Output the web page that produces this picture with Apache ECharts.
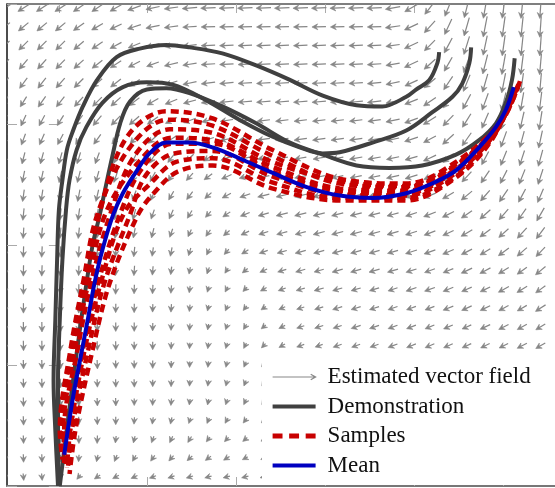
<!DOCTYPE html>
<html>
<head>
<meta charset="utf-8">
<script src="https://cdn.jsdelivr.net/npm/echarts@6/dist/echarts.min.js"></script>
<style>
html, body { margin: 0; padding: 0; background: #fff; }
#main { width: 555px; height: 488px; }
</style>
</head>
<body>
<div id="main"></div>
<script>
// grid points of the vector field
var gridX = [-6.07, -3.99, -1.91, 0.17, 2.24, 4.32, 6.40, 8.48, 10.56, 12.64, 14.72, 16.80, 18.87, 20.95, 23.03,
	25.11, 27.19, 29.27, 31.35, 33.43, 35.50, 37.58, 39.66, 41.74, 43.82, 45.90, 47.98, 50.06, 52.13, 54.21];
var gridY = [39.67, 38.11, 36.56, 35.00, 33.44, 31.89, 30.33, 28.77, 27.21, 25.66, 24.10, 22.54, 20.99,
	19.43, 17.87, 16.32, 14.76, 13.20, 11.64, 10.09, 8.53, 6.97, 5.42, 3.86, 2.30, 0.75];

// direction of each arrow (degrees, 180 = left, 270 = down), one row per gridY
var fieldAngle = [
	[212,212,213,213,214,214,210,200,192,188,185,182,182,182,182,182,182,182,182,182,182,190,210,232,248,256,260,262,264,266],
	[220,220,220,220,215,210,205,198,192,188,184,182,182,182,182,182,182,182,182,182,182,188,205,228,245,254,259,262,264,266],
	[225,225,225,225,220,214,208,202,196,190,186,182,182,182,182,182,182,182,182,182,183,188,205,225,242,253,258,262,264,266],
	[232,230,228,226,222,218,213,207,200,194,189,184,183,183,183,183,183,183,183,183,184,190,205,222,240,250,256,260,263,265],
	[236,234,232,228,225,222,218,212,205,198,192,187,185,184,184,184,184,184,184,184,186,192,205,220,236,248,254,259,262,265],
	[242,238,235,232,228,225,222,217,210,202,195,190,186,185,185,185,185,185,185,185,187,192,202,215,230,242,250,256,260,263],
	[248,245,242,238,234,230,226,221,215,207,200,194,189,187,187,187,187,187,187,187,188,192,200,212,226,238,247,253,257,261],
	[252,250,246,242,238,234,230,226,222,214,205,198,192,189,188,188,188,188,188,188,189,192,198,208,222,235,244,250,255,258],
	[257,256,255,254,253,250,247,243,238,232,224,212,200,192,190,190,190,190,190,190,190,192,196,205,220,232,242,248,252,255],
	[260,259,258,257,256,254,251,247,242,236,228,216,204,195,192,192,192,192,192,192,192,193,197,204,215,227,236,243,248,252],
	[262,262,261,260,259,257,254,250,246,240,233,222,209,199,194,193,193,193,193,193,193,194,197,202,210,220,229,236,242,247],
	[264,264,263,263,262,260,258,255,251,246,239,228,214,202,196,194,194,194,194,194,194,195,198,201,207,215,222,229,235,240],
	[266,266,265,265,264,263,261,259,256,251,245,235,220,206,198,195,195,195,195,195,195,196,198,201,205,210,216,222,228,233],
	[268,268,267,267,266,266,265,264,262,259,254,244,228,212,200,196,195,195,195,195,196,196,198,200,203,207,211,216,221,226],
	[269,269,268,268,268,267,267,266,265,263,259,250,236,220,205,197,196,196,196,196,196,196,198,200,202,205,208,212,216,220],
	[270,270,269,269,269,269,268,268,267,265,262,254,242,226,210,200,196,196,196,196,197,198,199,200,202,204,206,209,212,216],
	[270,270,270,270,270,270,269,269,268,266,264,257,247,232,215,203,197,197,197,197,198,199,200,201,202,204,206,208,210,213],
	[271,271,271,271,271,271,270,270,269,267,265,260,251,238,220,206,198,198,198,198,199,200,201,202,203,204,205,207,209,211],
	[271,271,271,271,271,271,271,271,270,268,266,262,254,243,226,210,200,200,200,200,200,201,202,203,204,205,206,207,208,210],
	[272,272,272,272,272,272,272,271,270,269,268,264,257,247,230,214,202,200,200,200,200,200,200,200,200,200,200,200,200,200],
	[272,272,272,272,272,272,272,272,270,268,266,262,256,248,235,218,205,200,200,200,200,200,200,200,200,200,200,200,200,200],
	[272,272,272,272,272,272,272,270,268,265,262,258,252,244,235,220,208,200,200,200,200,200,200,200,200,200,200,200,200,200],
	[272,272,272,272,272,272,270,266,262,258,252,246,240,232,225,215,205,200,200,200,200,200,200,200,200,200,200,200,200,200],
	[272,272,272,272,272,268,263,256,250,244,238,232,226,220,215,210,205,200,200,200,200,200,200,200,200,200,200,200,200,200],
	[272,272,272,272,266,258,248,240,234,228,222,217,212,208,205,202,200,200,200,200,200,200,200,200,200,200,200,200,200,200],
	[275,275,275,265,230,215,208,204,200,198,196,195,194,193,192,192,192,192,192,192,192,192,192,192,192,192,192,192,192,192]
];

// magnitude of each arrow, same layout
var fieldMagnitude = [
	[13,13,13,13,13,13,13,14,14,14,15,15,15,15,15,15,15,15,15,15,15,15,15,16,18,20,21,21,21,21],
	[13,13,13,13,13,13,13,14,14,14,14,14,14,14,14,14,14,14,14,14,14,15,15,16,17,19,21,21,21,21],
	[13,13,13,13,13,13,13,13,14,14,14,14,14,14,14,14,14,14,14,14,14,14,15,15,17,19,20,21,21,21],
	[13,13,13,13,13,13,13,13,13,14,14,14,14,14,14,14,14,14,14,14,14,14,15,15,16,18,20,21,21,21],
	[13,13,13,13,13,13,13,13,13,13,14,14,14,14,14,14,14,14,14,14,14,14,14,15,16,18,19,20,20,20],
	[12,12,13,13,13,13,13,13,13,13,13,14,14,14,14,14,14,14,14,14,14,14,14,15,16,17,18,19,19,20],
	[12,12,12,12,13,13,13,13,13,13,13,13,13,13,13,13,13,13,13,13,13,14,14,15,15,16,17,18,18,19],
	[12,12,12,12,12,12,12,12,12,12,12,12,13,13,13,13,13,13,13,13,13,13,14,14,15,16,16,17,17,18],
	[12,12,12,12,12,12,12,12,12,11,11,11,12,12,12,12,12,12,12,13,13,13,13,14,14,15,15,16,16,17],
	[12,12,12,12,12,12,12,11,11,11,10,10,11,12,12,12,12,12,12,12,12,13,13,13,14,14,15,15,16,16],
	[12,12,12,12,12,12,11,11,11,10,10,9,10,11,12,12,12,12,12,12,12,12,13,13,13,14,14,15,15,15],
	[12,12,12,12,12,11,11,11,10,10,9,8,9,10,11,12,12,12,12,12,12,12,12,13,13,13,14,14,14,15],
	[11,11,11,11,11,11,11,10,10,9,8,8,8,9,10,11,11,12,12,12,12,12,12,12,12,13,13,13,14,14],
	[11,11,11,11,11,11,10,10,9,9,8,7,7,8,9,10,11,11,11,11,11,11,12,12,12,12,12,13,13,13],
	[11,11,11,11,10,10,10,10,9,8,7,7,6,7,8,9,10,10,11,11,11,11,11,11,11,12,12,12,12,13],
	[10,10,10,10,10,10,10,9,9,8,7,6,6,6,7,8,9,10,10,10,10,10,11,11,11,11,11,12,12,12],
	[10,10,10,10,10,10,9,9,8,8,7,6,6,6,6,7,8,9,10,10,10,10,10,10,11,11,11,11,11,12],
	[10,10,10,10,10,9,9,9,8,7,7,6,6,6,6,7,8,9,9,10,10,10,10,10,10,10,11,11,11,11],
	[10,10,10,10,9,9,9,8,8,7,6,6,6,6,6,7,8,8,9,9,9,10,10,10,10,10,10,10,11,11],
	[9,9,9,9,9,9,8,8,8,7,6,6,6,6,6,7,7,8,8,9,9,9,9,9,9,9,9,9,9,9],
	[9,9,9,9,9,8,8,8,7,7,6,6,6,6,6,6,7,8,8,8,9,9,9,9,9,9,9,9,9,9],
	[9,9,9,9,8,8,8,7,7,7,6,6,6,6,6,6,7,7,8,8,8,9,9,9,9,9,9,9,9,9],
	[9,9,8,8,8,8,8,7,7,7,6,6,6,6,6,6,6,7,7,8,8,8,8,8,8,8,8,8,8,8],
	[8,8,8,8,8,8,7,7,7,7,7,6,6,6,6,6,6,7,7,7,8,8,8,8,8,8,8,8,8,8],
	[8,8,8,7,7,7,7,7,7,7,7,7,7,6,6,6,6,7,7,7,7,8,8,8,8,8,8,8,8,8],
	[8,7,7,6,6,7,7,7,7,7,7,7,7,7,7,7,7,7,7,7,7,7,7,7,7,7,7,7,7,7]
];

// demonstrations
var demo1 = [[42.8,36.0],[42.6,35.1],[41.7,33.7],[40.2,32.9],[39.1,32.3],[36.4,31.5],[33.5,31.6],[29.7,32.4],
	[26.0,33.7],[22.2,34.9],[18.4,35.9],[14.7,36.4],[12.1,36.6],[9.1,36.3],[6.5,35.6],[4.3,33.7],[2.7,31.5],
	[1.6,29.5],[0.9,27.9],[0.4,25.4],[0,22.9],[-0.2,18.8],[-0.4,13.8],[-0.6,8.8],[-0.4,4.6],[-0.1,0]];
var demo2 = [[46.4,36.4],[46.2,35.1],[45.4,33.4],[44.3,32.3],[42.0,31.0],[39.1,29.5],[35.3,28.5],[31.6,27.7],
	[29.7,27.6],[27.1,28.1],[24.0,29.0],[20.3,30.4],[16.6,32.0],[12.8,33.3],[9.9,33.5],[7.2,33.1],[4.9,31.8],
	[3.1,29.8],[2.0,27.9],[1.2,25.4],[0.8,22.9],[0.4,18.8],[0.1,13.8],[-0.1,8.8],[-0.1,4.6],[0,0]];
var demo3 = [[51.3,35.5],[51.0,33.7],[50.3,31.8],[49.2,30.1],[47.3,28.7],[44.7,27.5],[40.9,26.6],[37.2,26.4],
	[33.5,26.6],[29.7,27.5],[26.0,28.5],[22.2,30.1],[18.4,31.5],[14.7,32.6],[12.1,33.0],[9.9,32.9],[8.0,31.9],
	[6.9,30.1],[6.0,27.3],[5.2,24.6],[4.6,22.5],[3.8,20.0],[3.0,16.3],[2.2,12.1],[1.3,7.1],[0.6,3.0],[0.1,0]];

// sampled trajectories
var sample1 = [[51.9,33.6],[49.8,30.3],[44.7,26.9],[39.1,25.1],[31.6,25.5],[24.0,27.9],[17.3,30.5],[12.1,31.1],
	[7.6,28.9],[4.6,22.7],[2.9,16.8],[1.4,11.3],[0.2,4.6],[0.4,2.2]];
var sample2 = [[51.7,33.3],[49.5,30.0],[44.7,26.6],[39.1,24.8],[31.6,25.1],[24.0,27.4],[17.3,29.9],[12.3,30.4],
	[8.1,28.2],[4.4,22.7],[2.7,16.8],[1.3,11.3],[0.1,4.6],[0.4,2.3]];
var sample3 = [[51.8,33.4],[49.7,30.1],[44.7,26.7],[39.1,24.9],[31.6,25.3],[24.0,26.9],[17.3,29.3],[12.5,29.6],
	[8.6,27.5],[5.8,22.6],[3.6,16.8],[2.1,11.3],[0.6,4.7],[0.6,1.9]];
var sample4 = [[51.5,33.0],[49.3,29.6],[44.7,26.3],[39.1,24.5],[31.6,24.7],[24.0,26.5],[17.3,28.7],[12.7,28.9],
	[9.0,26.9],[5.3,22.7],[3.3,16.8],[1.8,11.3],[0.5,4.6],[0.6,2.0]];
var sample5 = [[51.3,32.9],[49.2,29.4],[44.7,26.2],[39.1,24.3],[31.6,24.5],[24.0,26.1],[17.3,28.4],[12.8,28.4],
	[9.4,26.4],[6.9,22.6],[4.4,16.8],[2.7,11.3],[1.1,4.7],[0.8,1.6]];
var sample6 = [[51.2,32.7],[49.0,29.2],[44.7,26.0],[39.1,24.1],[31.6,24.2],[24.0,25.7],[17.3,27.8],[13.0,27.6],
	[9.8,25.8],[8.0,22.5],[5.1,16.8],[3.3,11.3],[1.5,4.8],[1.0,1.3]];
var sample7 = [[51.0,32.4],[48.8,28.9],[44.7,25.7],[39.1,23.9],[31.6,23.9],[24.0,25.2],[17.3,27.2],[13.2,26.9],
	[10.3,25.1],[7.3,22.6],[4.7,16.8],[2.9,11.3],[1.3,4.7],[0.9,1.5]];
var sample8 = [[50.9,32.3],[48.7,28.7],[44.7,25.6],[39.1,23.7],[31.6,23.7],[24.0,24.7],[17.3,26.6],[13.4,26.1],
	[10.8,24.4],[8.9,22.5],[5.7,16.8],[3.8,11.3],[1.9,4.8],[1.2,1.0]];

// mean trajectory
var mean = [[51.2,33.1],[50.3,31.2],[49.2,29.8],[47.3,28.1],[44.7,26.2],[42.0,25.1],[39.1,24.3],[35.3,23.9],
	[31.6,24.1],[27.9,24.8],[24.0,26.0],[20.3,27.2],[17.3,28.1],[14.7,28.5],[12.1,28.5],[10.2,27.6],[8.8,26.2],
	[7.2,24.3],[6.1,22.5],[4.9,19.6],[4.0,16.8],[3.3,14.0],[2.6,11.3],[1.6,7.4],[1.0,4.6],[0.6,2.6]];

var xTicks = [0, 10, 20, 30, 40, 50];

// table for the arrows
var fieldData = [];
for (var r = 0; r < gridY.length; r++) {
	for (var c = 0; c < gridX.length; c++) {
		fieldData.push([gridX[c], gridY[r], fieldAngle[r][c], fieldMagnitude[r][c]]);
	}
}

var arrowColor = '#868686';
// one arrow centred on its grid point, stealth-like head
function renderArrow(params, api) {
	var p = api.coord([api.value(0), api.value(1)]);
	var a = api.value(2) * Math.PI / 180;
	var len = api.value(3);
	var dx = Math.cos(a), dy = -Math.sin(a);
	var x1 = p[0] - dx * len / 2, y1 = p[1] - dy * len / 2;
	var x2 = p[0] + dx * len / 2, y2 = p[1] + dy * len / 2;
	var h = 6.5, t = 27 * Math.PI / 180;
	var bx = -dx, by = -dy;
	var b1 = [x2 + h * (bx * Math.cos(t) - by * Math.sin(t)), y2 + h * (bx * Math.sin(t) + by * Math.cos(t))];
	var b2 = [x2 + h * (bx * Math.cos(-t) - by * Math.sin(-t)), y2 + h * (bx * Math.sin(-t) + by * Math.cos(-t))];
	var notch = [x2 - dx * 3.8, y2 - dy * 3.8];
	return {
		type: 'group',
		children: [{
			type: 'line',
			shape: { x1: x1, y1: y1, x2: notch[0], y2: notch[1] },
			style: { stroke: arrowColor, lineWidth: 1.2 }
		}, {
			type: 'polygon',
			shape: { points: [b1, [x2, y2], b2, notch] },
			style: { fill: arrowColor, stroke: arrowColor, lineWidth: 0.6 }
		}]
	};
}

function lineSeries(name, data, color, width, type, z) {
	return {
		name: name,
		type: 'line',
		data: data,
		symbol: 'none',
		smooth: 0.35,
		silent: true,
		z: z,
		itemStyle: { color: color },
		lineStyle: { color: color, width: width, type: type, cap: 'butt' }
	};
}

var demoColor = '#404040', sampleColor = '#c80000', meanColor = '#0000c0';
var series = [{
	name: 'Estimated vector field',
	type: 'custom',
	data: fieldData,
	renderItem: renderArrow,
	clip: true,
	silent: true,
	z: 1,
	itemStyle: { color: arrowColor }
}];
[demo1, demo2, demo3].forEach(function (d) {
	series.push(lineSeries('Demonstration', d, demoColor, 4, 'solid', 3));
});
[sample1, sample2, sample3, sample4, sample5, sample6, sample7, sample8].forEach(function (d) {
	series.push(lineSeries('Samples', d, sampleColor, 4.5, [8, 5], 4));
});
series.push(lineSeries('Mean', mean, meanColor, 4, 'solid', 5));

var axisCommon = {
	type: 'value',
	axisLabel: { show: false },
	splitLine: { show: false }
};

var myChart = echarts.init(document.getElementById('main'));
myChart.setOption({
	animation: false,
	backgroundColor: '#fff',
	grid: { left: 7, right: -1, top: 4, bottom: 2, containLabel: false },
	xAxis: [
		Object.assign({}, axisCommon, {
			min: -5.84, max: 55.84, position: 'bottom',
			axisLine: { show: true, onZero: false, lineStyle: { color: '#777', width: 2 } },
			axisTick: { show: true, inside: true, length: 9, customValues: xTicks, lineStyle: { color: '#aaa' } }
		}),
		Object.assign({}, axisCommon, {
			min: -5.84, max: 55.84, position: 'top',
			axisLine: { show: true, onZero: false, lineStyle: { color: '#555', width: 1.5 } },
			axisTick: { show: true, inside: true, length: 9, customValues: xTicks, lineStyle: { color: '#aaa' } }
		})
	],
	yAxis: [
		Object.assign({}, axisCommon, {
			min: 0, max: 40, interval: 10, position: 'left',
			axisLine: { show: true, onZero: false, lineStyle: { color: '#111', width: 1.5 } },
			axisTick: { show: true, inside: true, length: 10, lineStyle: { color: '#aaa' } }
		}),
		Object.assign({}, axisCommon, {
			min: 0, max: 40, interval: 10, position: 'right',
			axisLine: { show: false },
			axisTick: { show: true, inside: true, length: 10, lineStyle: { color: '#aaa' } }
		})
	],
	legend: {
		orient: 'vertical',
		left: 262,
		bottom: 3,
		selectedMode: false,
		backgroundColor: '#fff',
		padding: [11, 40, 8, 10],
		itemWidth: 43,
		itemHeight: 18,
		itemGap: 6.5,
		textStyle: { fontFamily: 'Liberation Serif', fontSize: 23, color: '#111', padding: [0, 0, 0, 7] },
		data: [{
			name: 'Estimated vector field',
			icon: 'path://M0,6 L96,6 M86,0 L97,6 L86,12',
			itemStyle: { color: 'rgba(0,0,0,0)', borderColor: '#888', borderWidth: 1.2 }
		}, {
			name: 'Demonstration',
			icon: 'path://M0,0H43V4H0Z',
			itemStyle: { color: demoColor }
		}, {
			name: 'Samples',
			icon: 'path://M0,0H9V4.5H0Z M15,0H24V4.5H15Z M30,0H39V4.5H30Z',
			itemStyle: { color: sampleColor }
		}, {
			name: 'Mean',
			icon: 'path://M0,0H43V4H0Z',
			itemStyle: { color: meanColor }
		}]
	},
	series: series
});
</script>
</body>
</html>
